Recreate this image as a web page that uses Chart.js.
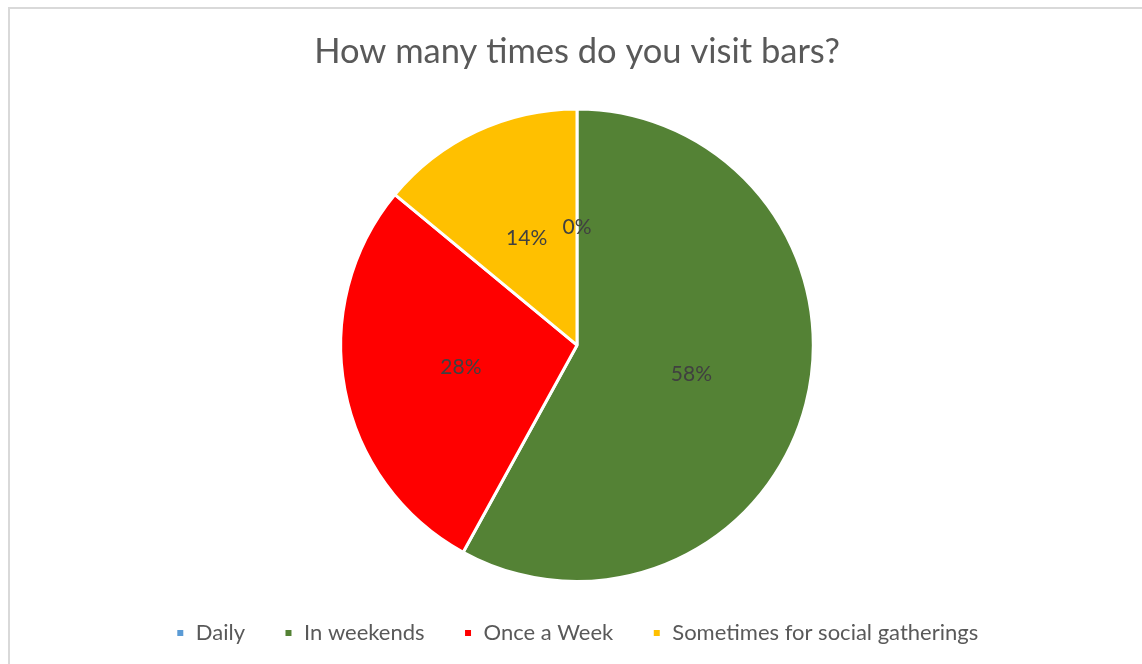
<!DOCTYPE html>
<html>
<head>
<meta charset="utf-8">
<script src="https://cdn.jsdelivr.net/npm/chart.js@4.4.0/dist/chart.umd.min.js"></script>
<style>
  html, body { margin: 0; padding: 0; background: #fff; width: 1142px; height: 664px; overflow: hidden; }
  #frame { position: absolute; left: 8px; top: 7px; width: 1200px; height: 700px; border: 2px solid #d9d9d9; box-sizing: border-box; }
  #wrap { position: absolute; left: 0; top: 0; width: 1142px; height: 664px; }
</style>
</head>
<body>
<div id="frame"></div>
<div id="wrap"><canvas id="c" width="1142" height="664"></canvas></div>
<script>
const categories = ["Daily", "In weekends", "Once a Week", "Sometimes for social gatherings"];
const values = [0, 58, 28, 14];
const labelsText = ["0%", "58%", "28%", "14%"];
const colors = ["#5B9BD5", "#548235", "#FF0000", "#FFC000"];
const chartTitle = "How many times do you visit bars?";

const FONT = "Lato, 'Open Sans', sans-serif";

const dataLabels = {
  id: 'dataLabels',
  afterDatasetsDraw(chart) {
    const ctx = chart.ctx;
    const meta = chart.getDatasetMeta(0);
    ctx.save();
    ctx.font = "21px " + FONT;
    ctx.fillStyle = "#404040";
    ctx.textAlign = "center";
    ctx.textBaseline = "middle";
    meta.data.forEach((arc, i) => {
      const p = arc.getCenterPoint();
      ctx.fillText(labelsText[i], p.x, p.y);
    });
    ctx.restore();
  }
};

new Chart(document.getElementById('c'), {
  type: 'pie',
  data: {
    labels: categories,
    datasets: [{
      data: values,
      backgroundColor: colors,
      borderColor: "#ffffff",
      borderWidth: 3
    }]
  },
  options: {
    responsive: false,
    animation: false,
    layout: { padding: { top: 20, bottom: 10, left: 12, right: 0 } },
    plugins: {
      title: {
        display: true,
        text: chartTitle,
        color: "#595959",
        font: { family: FONT, size: 34.5, weight: 'normal' },
        padding: { top: 11, bottom: 35 }
      },
      legend: {
        position: 'bottom',
        labels: {
          color: "#595959",
          font: { family: FONT, size: 22 },
          boxWidth: 9,
          boxHeight: 9,
          padding: 39,
          usePointStyle: false
        }
      },
      tooltip: { enabled: false }
    }
  },
  plugins: [dataLabels]
});
</script>
</body>
</html>
